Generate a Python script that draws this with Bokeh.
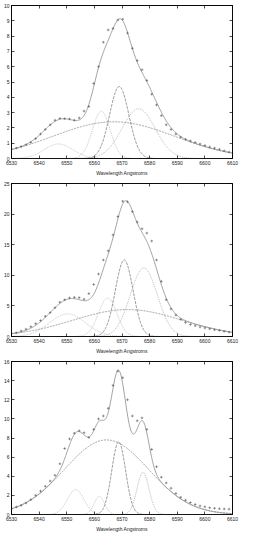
import numpy as np
from bokeh.plotting import figure
from bokeh.layouts import column
from bokeh.models import Range1d, LinearAxis, FixedTicker, CustomJSTickFormatter
from bokeh.embed import file_html
from bokeh.resources import INLINE

# ---------------- data ----------------
WAVE = [6530.00, 6531.75, 6533.50, 6535.25, 6537.00, 6538.75, 6540.50, 6542.25,
        6544.00, 6545.75, 6547.50, 6549.25, 6551.00, 6552.75, 6554.50, 6556.25,
        6558.00, 6559.75, 6561.50, 6563.25, 6565.00, 6566.75, 6568.50, 6570.25,
        6572.00, 6573.75, 6575.50, 6577.25, 6579.00, 6580.75, 6582.50, 6584.25,
        6586.00, 6587.75, 6589.50, 6591.25, 6593.00, 6594.75, 6596.50, 6598.25,
        6600.00, 6601.75, 6603.50, 6605.25, 6607.00, 6608.75]

FLUX_1 = [0.60, 0.68, 0.78, 0.90, 1.05, 1.30, 1.60, 1.90, 2.20, 2.50, 2.62, 2.60,
          2.58, 2.50, 2.65, 3.10, 3.40, 4.90, 6.00, 7.60, 8.40, 8.50, 9.05, 9.10,
          8.20, 7.20, 6.40, 5.80, 5.10, 4.20, 3.50, 2.80, 2.20, 1.90, 1.60, 1.40,
          1.25, 1.15, 1.05, 0.95, 0.85, 0.75, 0.68, 0.60, 0.50, 0.42]

FLUX_2 = [0.50, 0.60, 0.90, 1.20, 1.60, 2.10, 2.60, 3.30, 3.90, 4.70, 5.60, 6.00,
          6.30, 6.40, 6.35, 6.10, 7.00, 8.50, 10.20, 12.50, 14.00, 16.60, 19.60, 22.10,
          22.00, 20.40, 18.70, 17.60, 16.90, 15.60, 12.50, 9.00, 6.00, 4.50, 3.50, 2.80,
          2.30, 1.95, 1.75, 1.55, 1.40, 1.25, 1.10, 1.00, 0.85, 0.72]

FLUX_3 = [0.60, 0.78, 0.95, 1.20, 1.55, 2.00, 2.45, 2.95, 3.50, 4.10, 5.30, 6.90,
          7.90, 8.50, 8.75, 8.55, 8.05, 8.90, 10.00, 10.30, 11.10, 13.50, 15.00, 14.30,
          12.00, 10.30, 9.80, 10.10, 8.90, 6.80, 5.00, 3.90, 3.30, 2.75, 2.20, 1.80,
          1.50, 1.25, 1.05, 0.90, 0.80, 0.70, 0.65, 0.60, 0.58, 0.56]

# fitted Gaussian components: amplitude, centre (A), sigma (A)
AMP_1 = [0.95, 3.10, 4.70, 3.25, 2.40]
CEN_1 = [6547.0, 6562.5, 6569.0, 6576.0, 6567.0]
SIG_1 = [5.2, 3.2, 3.5, 6.0, 22.0]

AMP_2 = [3.7, 6.3, 12.5, 11.2, 4.4]
CEN_2 = [6550.3, 6564.8, 6570.8, 6577.9, 6572.0]
SIG_2 = [6.5, 3.3, 3.2, 4.9, 19.7]

AMP_3 = [2.6, 1.9, 7.6, 4.4, 7.8]
CEN_3 = [6553.2, 6561.8, 6568.8, 6577.6, 6564.4]
SIG_3 = [3.0, 1.9, 2.5, 2.2, 15.2]

X_TICKS = [6530, 6540, 6550, 6560, 6570, 6580, 6590, 6600, 6610]
Y_TICKS_1 = [0, 1, 2, 3, 4, 5, 6, 7, 8, 9, 10]
Y_TICKS_2 = [0, 5, 10, 15, 20, 25]
Y_TICKS_3 = [0, 2, 4, 6, 8, 10, 12, 14, 16]
Y_MAX = [10, 25, 16]
X_LABEL = "Wavelength Angstroms"

# ---------------- styles ----------------
FONT = "Liberation Sans"
FS = "5px"
COMP_STYLE = [
    dict(color="#b8b8b8", line_dash="1 1", line_width=0.8),
    dict(color="#b8b8b8", line_dash="1 1", line_width=0.8),
    dict(color="#808080", line_dash="3 1", line_width=0.8),
    dict(color="#aaaaaa", line_dash="1 1", line_width=0.8),
    dict(color="#8a8a8a", line_dash="2 1", line_width=0.8),
]

xx = np.linspace(6530, 6610, 481)


def gauss(a, c, s):
    return a * np.exp(-((xx - c) ** 2) / (2.0 * s * s))


def style_axis(ax, ticks, labels=True):
    ax.ticker = FixedTicker(ticks=ticks)
    ax.major_tick_in = 3
    ax.major_tick_out = 0
    ax.minor_tick_in = 0
    ax.minor_tick_out = 0
    ax.axis_line_color = "black"
    ax.axis_line_width = 0.8
    ax.major_tick_line_color = "black"
    ax.major_tick_line_width = 0.7
    ax.major_label_text_font = FONT
    ax.major_label_text_font_size = FS
    ax.major_label_text_color = "#222222"
    ax.major_label_standoff = 2
    if not labels:
        ax.formatter = CustomJSTickFormatter(code="return ''")
        ax.major_label_standoff = 0


def panel(flux, amps, cens, sigs, ymax, yticks):
    p = figure(width=239, height=178, output_backend="svg", toolbar_location=None,
               x_range=Range1d(6530, 6610), y_range=Range1d(0, ymax),
               min_border_left=4, min_border_right=7, min_border_top=5,
               min_border_bottom=0, background_fill_color="white")
    p.grid.visible = False
    p.outline_line_color = "black"
    p.outline_line_width = 0.8

    style_axis(p.xaxis[0], X_TICKS)
    style_axis(p.yaxis[0], yticks)
    p.xaxis[0].axis_label = X_LABEL
    p.xaxis[0].axis_label_text_font = FONT
    p.xaxis[0].axis_label_text_font_size = FS
    p.xaxis[0].axis_label_text_font_style = "normal"
    p.xaxis[0].axis_label_text_color = "#222222"
    p.xaxis[0].axis_label_standoff = 2

    top = LinearAxis()
    style_axis(top, X_TICKS, labels=False)
    p.add_layout(top, "above")
    right = LinearAxis()
    style_axis(right, yticks, labels=False)
    p.add_layout(right, "right")

    total = np.zeros_like(xx)
    for a, c, s, st in zip(amps, cens, sigs, COMP_STYLE):
        g = gauss(a, c, s)
        total += g
        p.line(xx, g, **st)
    p.line(xx, total, color="#8a8a8a", line_width=0.8)
    p.scatter(WAVE, flux, marker="cross", size=2.6, line_color="#555555", line_width=0.6)
    return p


p1 = panel(FLUX_1, AMP_1, CEN_1, SIG_1, Y_MAX[0], Y_TICKS_1)
p2 = panel(FLUX_2, AMP_2, CEN_2, SIG_2, Y_MAX[1], Y_TICKS_2)
p3 = panel(FLUX_3, AMP_3, CEN_3, SIG_3, Y_MAX[2], Y_TICKS_3)

layout = column(p1, p2, p3, spacing=0)
open("out.html", "w").write(file_html(layout, INLINE))
